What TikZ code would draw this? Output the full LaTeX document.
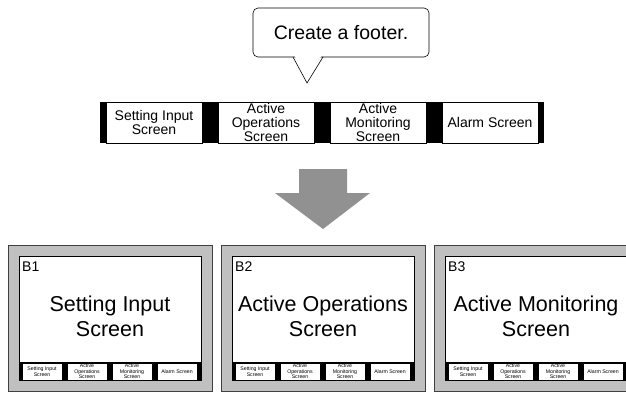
\documentclass[tikz,border=0pt]{standalone}
\usepackage{fontspec}
\setmainfont{Liberation Sans}
\usepackage{tikz}
\usepackage{xcolor}
\definecolor{framegray}{RGB}{192,192,192}
\definecolor{arrowgray}{RGB}{145,145,145}

\begin{document}
\begin{tikzpicture}[x=1pt, y=-1pt,
    barbox/.style={draw, fill=white, line width=0.6pt, inner sep=0pt, align=center,
        minimum width=96, minimum height=41, font=\fontsize{14}{14}\selectfont},
    minibox/.style={draw, fill=white, line width=0.3pt, inner sep=0pt, align=center,
        minimum width=40, minimum height=17, font=\fontsize{5.2}{5.4}\selectfont},
    screenframe/.style={draw=black!75, fill=framegray, line width=0.6pt,
        minimum width=204, minimum height=146, inner sep=0pt},
    screenbody/.style={draw, fill=white, line width=0.6pt,
        minimum width=182, minimum height=124, inner sep=0pt}]
    \useasboundingbox (0,0) rectangle (626,393);
    \clip (0,0) rectangle (626,393);

    % Speech bubble with its tail
    \node[draw, fill=white, rounded corners=5pt, line width=0.6pt, minimum width=176,
        minimum height=49, font=\fontsize{19.5}{22}\selectfont] (note) at (341,32.5) {Create a footer.};
    \coordinate (tailL) at (293,57);
    \coordinate (tailR) at (323,57);
    \coordinate (tip) at (307,83);
    \fill[white] (294.5,55.5) -- (307,80) -- (321.5,55.5) -- cycle;
    \draw[line width=0.6pt] (tailL) -- (tip) -- (tailR);

    % Footer bar to be created
    \node[fill=black, minimum width=444, minimum height=41, inner sep=0pt] (bar) at (322,122.5) {};
    \foreach \i/\lbl in {0/{Setting Input\\Screen}, 1/{Active\\Operations\\Screen},
                         2/{Active\\Monitoring\\Screen}, 3/{Alarm Screen}}
        \node[barbox] (tab\i) at (154+112*\i,122.5) {\lbl};

    % Big gray arrow
    \fill[arrowgray] (299,169) -- (347,169) -- (347,193) -- (370,193)
        -- (323,229) -- (275,193) -- (299,193) -- cycle;

    % Three screens, each with the footer at the bottom
    \foreach \k/\blbl/\bigtxt in {0/B1/{Setting Input\\Screen}, 1/B2/{Active Operations\\Screen},
                                  2/B3/{Active Monitoring\\Screen}} {
        \begin{scope}[xshift=213*\k]
            \node[screenframe] (frame\k) at (110,318) {};
            \node[screenbody] (body\k) at (110,318) {};
            \node[anchor=west, inner sep=0pt, font=\fontsize{14}{14}\selectfont] (id\k) at (22,267) {\blbl};
            \node[align=center, inner sep=0pt, font=\fontsize{21.5}{25}\selectfont] (title\k) at (110,316) {\bigtxt};
            \fill (19,362) rectangle (201,380);
            \foreach \j/\lbl in {0/{Setting Input\\Screen}, 1/{Active\\Operations\\Screen},
                                 2/{Active\\Monitoring\\Screen}, 3/{Alarm Screen}}
                \node[minibox] (mini\k\j) at (42+45*\j,371.5) {\lbl};
        \end{scope}
    }
\end{tikzpicture}
\end{document}
